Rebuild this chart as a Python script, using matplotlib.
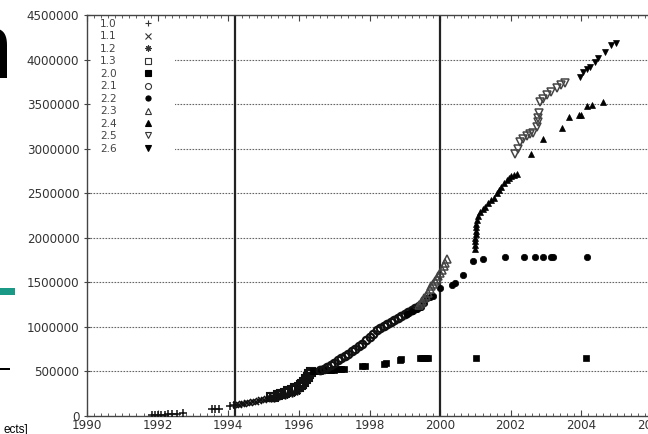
import matplotlib
matplotlib.use("Agg")
import matplotlib.pyplot as plt
from matplotlib.ticker import MultipleLocator

plt.rcParams['font.family'] = ['DejaVu Sans']

# ---------------- data (year, lines of code) ----------------
releases = ["1.0", "1.1", "1.2", "1.3", "2.0", "2.1", "2.2", "2.3", "2.4", "2.5", "2.6"]

x_10 = [1991.84, 1991.93, 1992.01, 1992.10, 1992.21, 1992.29, 1992.41, 1992.55, 1992.72,
        1993.54, 1993.63, 1993.74, 1994.05, 1994.17]
y_10 = [8000, 10000, 12000, 14000, 16000, 17000, 20000, 22000, 30000,
        78000, 80000, 82000, 112000, 118000]

x_11 = [1994.22, 1994.3, 1994.38, 1994.46, 1994.54, 1994.62, 1994.7, 1994.78, 1994.86,
        1994.94, 1995.02, 1995.1, 1995.18]
y_11 = [124000, 128000, 133000, 138000, 144000, 150000, 156000, 162000, 168000,
        176000, 184000, 193000, 202000]

x_12 = [1995.2, 1995.3, 1995.45, 1995.6, 1995.8, 1995.95]
y_12 = [198000, 206000, 220000, 240000, 262000, 285000]

x_13 = [1995.2, 1995.3, 1995.4, 1995.5, 1995.6, 1995.7, 1995.8, 1995.9, 1996.0, 1996.05,
        1996.1, 1996.15, 1996.2, 1996.25, 1996.3, 1996.35]
y_13 = [208000, 218000, 232000, 246000, 262000, 276000, 292000, 310000, 330000, 345000,
        362000, 385000, 410000, 440000, 470000, 495000]

x_20 = [1996.4, 1996.45, 1996.5, 1996.55, 1996.6, 1996.65, 1996.7, 1996.75, 1996.8, 1996.85,
        1996.9, 1997.0, 1997.1, 1997.2, 1997.28, 1997.8, 1997.88, 1998.4, 1998.47, 1998.85,
        1998.9, 1999.42, 1999.48, 1999.54, 1999.6, 1999.66, 2001.02, 2004.13]
y_20 = [500000, 503000, 505000, 507000, 509000, 511000, 512000, 514000, 515000, 517000,
        519000, 521000, 524000, 527000, 530000, 558000, 564000, 588000, 596000, 630000,
        638000, 652000, 652000, 654000, 654000, 655000, 655000, 655000]

x_21 = [1996.6, 1996.7, 1996.8, 1996.9, 1997.0, 1997.1, 1997.2, 1997.3, 1997.4, 1997.5,
        1997.6, 1997.7, 1997.8, 1997.9, 1998.0, 1998.1, 1998.2, 1998.3, 1998.4, 1998.5,
        1998.6, 1998.7, 1998.8, 1998.9, 1999.0, 1999.1, 1999.2, 1999.3, 1999.4]
y_21 = [515000, 530000, 550000, 575000, 600000, 625000, 650000, 675000, 700000, 725000,
        752000, 780000, 812000, 850000, 890000, 925000, 960000, 985000, 1010000, 1035000,
        1058000, 1080000, 1100000, 1120000, 1140000, 1165000, 1190000, 1215000, 1240000]

x_22 = [1999.07, 1999.2, 1999.35, 1999.45, 1999.55, 1999.63, 1999.72, 1999.8, 2000.0,
        2000.34, 2000.42, 2000.65, 2000.93, 2001.22, 2001.84, 2002.38, 2002.69, 2002.92,
        2003.15, 2003.21, 2004.16]
y_22 = [1150000, 1175000, 1200000, 1225000, 1270000, 1320000, 1335000, 1345000, 1436000,
        1470000, 1492000, 1582000, 1740000, 1762000, 1784000, 1786000, 1786000, 1786000,
        1786000, 1786000, 1786000]

x_23 = [1999.4, 1999.45, 1999.5, 1999.55, 1999.6, 1999.65, 1999.7, 1999.75, 1999.8,
        1999.85, 1999.9, 1999.95, 2000.0, 2000.05, 2000.1, 2000.15, 2000.2]
y_23 = [1245000, 1265000, 1290000, 1320000, 1350000, 1385000, 1420000, 1455000, 1485000,
        1510000, 1540000, 1570000, 1600000, 1640000, 1680000, 1720000, 1765000]

x_24 = [2000.98, 2000.99, 2001.0, 2001.0, 2001.01, 2001.02, 2001.02, 2001.03, 2001.05,
        2001.08, 2001.13, 2001.2, 2001.28, 2001.36, 2001.45, 2001.52, 2001.6, 2001.66,
        2001.72, 2001.8, 2001.88, 2001.95, 2002.02, 2002.1, 2002.17, 2002.58, 2002.92,
        2003.46, 2003.66, 2003.92, 2004.0, 2004.16, 2004.3, 2004.62]
y_24 = [1870000, 1920000, 1960000, 2000000, 2040000, 2080000, 2120000, 2160000, 2200000,
        2240000, 2290000, 2320000, 2350000, 2385000, 2420000, 2450000, 2500000, 2540000,
        2570000, 2610000, 2650000, 2670000, 2690000, 2705000, 2720000, 2940000, 3108000,
        3232000, 3355000, 3378000, 3380000, 3479000, 3490000, 3524000]

x_25 = [2002.12, 2002.2, 2002.27, 2002.35, 2002.46, 2002.55, 2002.63, 2002.75, 2002.77,
        2002.78, 2002.79, 2002.83, 2002.9, 2003.03, 2003.15, 2003.31, 2003.42, 2003.54]
y_25 = [2940000, 3000000, 3075000, 3110000, 3142000, 3160000, 3176000, 3243000, 3300000,
        3344000, 3400000, 3524000, 3560000, 3602000, 3640000, 3681000, 3710000, 3737000]

x_26 = [2003.97, 2004.05, 2004.15, 2004.25, 2004.39, 2004.48, 2004.67, 2004.84, 2004.99]
y_26 = [3805000, 3860000, 3890000, 3916000, 3972000, 4017000, 4085000, 4163000, 4185000]

event_years = [1994.2, 2000.0]
grid_values = [500000, 1000000, 1500000, 2000000, 2500000, 3000000, 3500000, 4000000]
x_tick_years = [1990, 1992, 1994, 1996, 1998, 2000, 2002, 2004, 2006]

series_x = [x_10, x_11, x_12, x_13, x_20, x_21, x_22, x_23, x_24, x_25, x_26]
series_y = [y_10, y_11, y_12, y_13, y_20, y_21, y_22, y_23, y_24, y_25, y_26]

# ---------------- styles ----------------
styles = {
    "1.0": dict(marker='+', mfc='none', mec='#111', ms=6, mew=1.1),
    "1.1": dict(marker='x', mfc='none', mec='#111', ms=5, mew=1.2),
    "1.2": dict(marker=(8, 2, 0), mfc='none', mec='#111', ms=5.5, mew=1.2),
    "1.3": dict(marker='s', mfc='none', mec='#111', ms=5.2, mew=1.5),
    "2.0": dict(marker='s', mfc='#000', mec='#000', ms=5, mew=0.5),
    "2.1": dict(marker='o', mfc='none', mec='#111', ms=5.4, mew=1.6),
    "2.2": dict(marker='o', mfc='#000', mec='#000', ms=4.6, mew=0.5),
    "2.3": dict(marker='^', mfc='none', mec='#444', ms=5.2, mew=1.1),
    "2.4": dict(marker='^', mfc='#000', mec='#000', ms=4.6, mew=0.5),
    "2.5": dict(marker='v', mfc='none', mec='#444', ms=5.2, mew=1.1),
    "2.6": dict(marker='v', mfc='#000', mec='#000', ms=4.6, mew=0.5),
}

W, H = 648, 434
fig = plt.figure(figsize=(W / 100, H / 100), dpi=100)
fig.patch.set_facecolor('white')

# axes: 1990 at x=87px, 2006 at x=652px; 0 at y=416px, 4.5M at y=15px
ax = fig.add_axes([87 / W, (H - 416) / H, (652 - 87) / W, (416 - 15) / H])
ax.set_xlim(1990, 2006)
ax.set_ylim(0, 4500000)

for v in grid_values:
    ax.axhline(v, color='#666', lw=0.8, ls=(0, (1.5, 1.2)), zorder=1)
for ev in event_years:
    ax.axvline(ev, color='#222', lw=1.6, zorder=2)

# white key area (the key box hides the grid behind it)
ax.add_patch(plt.Rectangle((0, 1 - 142 / 401), (175 - 87) / 565, 142 / 401,
                           transform=ax.transAxes, facecolor='white', edgecolor='none',
                           zorder=1.5))

for name, xs, ys in zip(releases, series_x, series_y):
    st = styles[name]
    ax.plot(xs, ys, ls='none', marker=st['marker'], markerfacecolor=st['mfc'],
            markeredgecolor=st['mec'], markersize=st['ms'], markeredgewidth=st['mew'],
            label=name, zorder=3)

leg_handles = []
for name in releases:
    st = styles[name]
    lh, = ax.plot([], [], ls='none', marker=st['marker'], markerfacecolor=st['mfc'],
                  markeredgecolor='#333' if st['mfc'] == 'none' else '#000',
                  markersize=st['ms'] * 0.8, markeredgewidth=0.8, label=name)
    leg_handles.append(lh)

leg = ax.legend(handles=leg_handles, loc='upper left', bbox_to_anchor=(6 / 565, 1 + 3 / 401),
                markerfirst=False, frameon=False, fontsize=7.6, labelspacing=0.235,
                handlelength=1.0, handletextpad=2.5, borderpad=0.2, borderaxespad=0.45,
                numpoints=1)
for t in leg.get_texts():
    t.set_color('#444')

ax.xaxis.set_major_locator(MultipleLocator(2))
ax.xaxis.set_minor_locator(MultipleLocator(0.2))
ax.yaxis.set_major_locator(MultipleLocator(500000))
ax.tick_params(axis='x', which='major', direction='in', length=4, width=0.8,
               top=True, labelsize=8.6, labelcolor='#333', pad=2, color='#444')
ax.tick_params(axis='x', which='minor', direction='in', length=2, width=0.6,
               top=True, color='#444')
ax.tick_params(axis='y', which='major', direction='inout', length=5, width=0.8,
               labelsize=8.6, labelcolor='#333', pad=3, color='#444')
ax.set_xticks(x_tick_years)
ax.set_xticklabels([str(y) for y in x_tick_years])
ax.ticklabel_format(axis='y', style='plain', useOffset=False)
for s in ax.spines.values():
    s.set_color('#444')
    s.set_linewidth(1.0)

# ---------------- remnants of the surrounding slide ----------------
fig.text(13 / W, 1 - 78 / H, "n", fontsize=66, color='black', ha='right', va='baseline',
         family=['Liberation Sans', 'DejaVu Sans'])
fig.patches.append(plt.Rectangle((0, 1 - 295 / H), 15 / W, 7 / H, transform=fig.transFigure,
                                 facecolor='#1a9a86', edgecolor='none'))
fig.patches.append(plt.Rectangle((0, 1 - 370 / H), 10 / W, 2 / H, transform=fig.transFigure,
                                 facecolor='black', edgecolor='none'))
fig.text(28 / W, 1 - 433 / H, "ects]", fontsize=8.5, color='black', ha='right', va='baseline',
         family=['Liberation Sans', 'DejaVu Sans'])

fig.savefig("out.png", dpi=100, facecolor='white')
